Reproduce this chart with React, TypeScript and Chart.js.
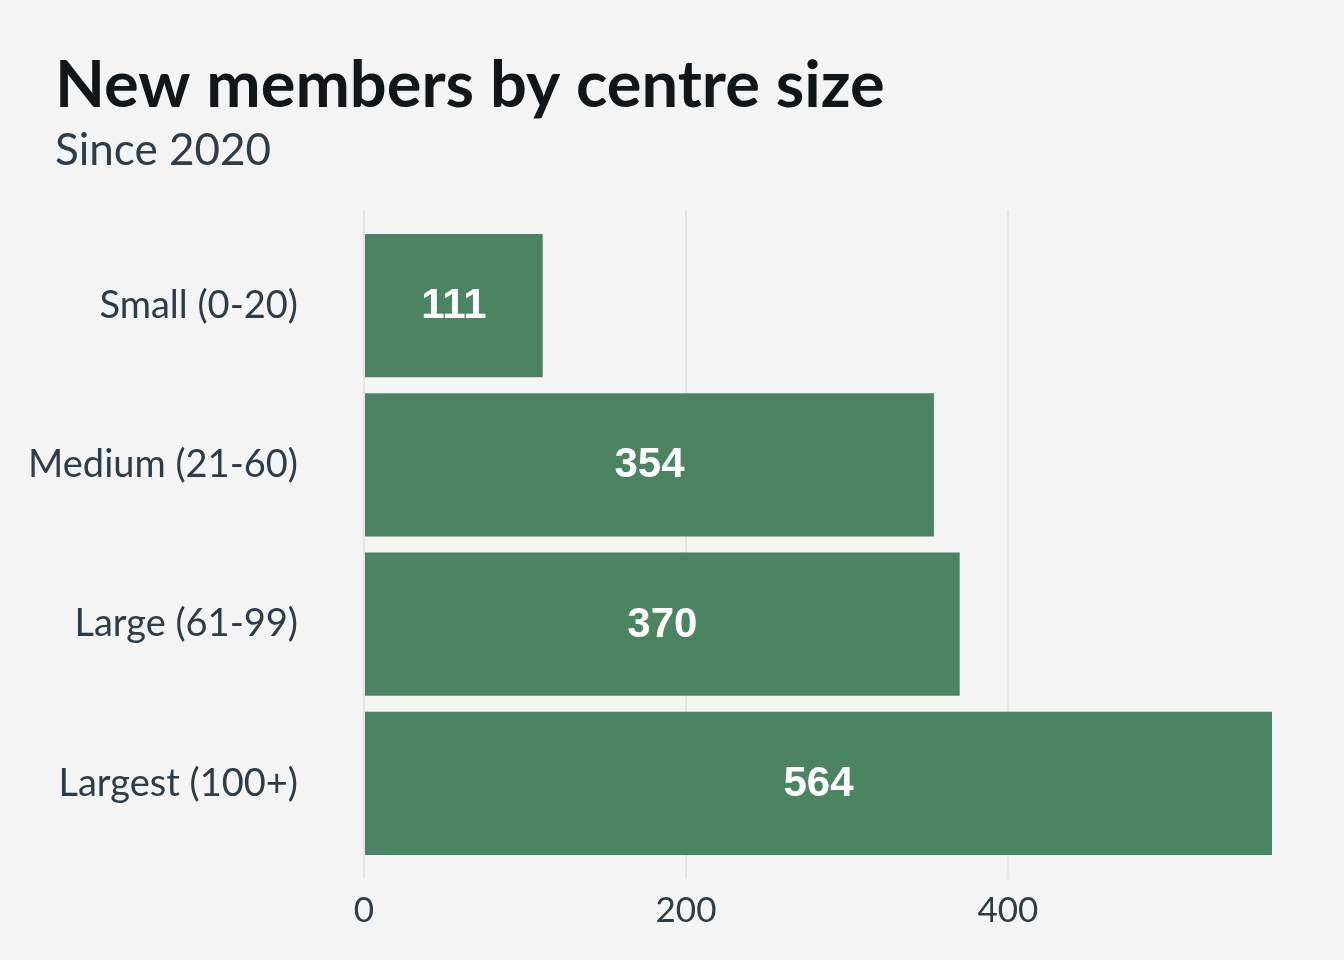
import React, { useEffect, useRef } from "react";
import { Chart, registerables } from "chart.js";

Chart.register(...registerables);

const categories = ["Small (0-20)", "Medium (21-60)", "Large (61-99)", "Largest (100+)"];
const newMembers = [111, 354, 370, 564];
const xTickValues = [0, 200, 400];

const TITLE = "New members by centre size";
const SUBTITLE = "Since 2020";

const BG = "#f4f4f4";
const BAR = "#4a8461";
const TEXT = "#2e3c48";

const headerPlugin = {
  id: "header",
  afterDraw(chart: any) {
    const ctx = chart.ctx;
    ctx.save();
    ctx.textAlign = "left";
    ctx.textBaseline = "alphabetic";
    ctx.fillStyle = "#121619";
    ctx.font = "bold 65px Lato";
    ctx.fillText(TITLE, 55, 107);
    ctx.fillStyle = TEXT;
    ctx.font = "44px Lato";
    ctx.fillText(SUBTITLE, 55, 165);
    ctx.restore();
  },
};

const valueLabels = {
  id: "valueLabels",
  afterDatasetsDraw(chart: any) {
    const ctx = chart.ctx;
    const meta = chart.getDatasetMeta(0);
    ctx.save();
    ctx.fillStyle = "#ffffff";
    ctx.font = "bold 42px 'Liberation Sans', Arial, sans-serif";
    ctx.textAlign = "center";
    ctx.textBaseline = "middle";
    meta.data.forEach((el: any, i: number) => {
      const { x, y, base } = el.getProps(["x", "y", "base"], true);
      ctx.fillText(String(newMembers[i]), (x + base) / 2, y + 1);
    });
    ctx.restore();
  },
};

const bgPlugin = {
  id: "bgFill",
  beforeDraw(chart: any) {
    const ctx = chart.ctx;
    ctx.save();
    ctx.fillStyle = BG;
    ctx.fillRect(0, 0, chart.width, chart.height);
    ctx.restore();
  },
};

export default function App() {
  const ref = useRef<HTMLCanvasElement | null>(null);

  useEffect(() => {
    document.body.style.margin = "0";
    document.body.style.background = BG;
    if (!ref.current) return;
    const chart = new Chart(ref.current, {
      type: "bar",
      data: {
        datasets: [
          {
            data: newMembers.map((v, i) => ({ x: v, y: i + 1 })),
            backgroundColor: BAR,
            borderWidth: 0,
            barPercentage: 0.9,
            categoryPercentage: 1,
          },
        ],
      },
      options: {
        indexAxis: "y",
        animation: false,
        responsive: false,
        maintainAspectRatio: false,
        layout: { padding: { left: 4, right: 72, top: 210, bottom: 0 } },
        plugins: {
          legend: { display: false },
          tooltip: { enabled: false },
          title: { display: false },
        },
        scales: {
          x: {
            type: "linear",
            position: "bottom",
            min: 0,
            max: 564,
            afterBuildTicks(scale: any) {
              scale.ticks = xTickValues.map((v) => ({ value: v }));
            },
            afterFit(scale: any) {
              scale.height = 81;
              scale.paddingLeft = 0;
              scale.paddingRight = 0;
            },
            grid: { color: "#e4e4e4", lineWidth: 2, drawTicks: false },
            border: { display: false },
            ticks: {
              color: TEXT,
              padding: 11,
              font: { family: "Lato", size: 35 },
            },
          },
          y: {
            type: "linear",
            position: "left",
            min: 0.4,
            max: 4.6,
            reverse: true,
            offset: false,
            afterBuildTicks(scale: any) {
              scale.ticks = categories.map((_, i) => ({ value: i + 1 }));
            },
            afterFit(scale: any) {
              scale.width = 364 - 4;
              scale.paddingTop = 0;
              scale.paddingBottom = 0;
            },
            grid: { display: false, drawTicks: false, offset: false },
            border: { display: false },
            ticks: {
              color: TEXT,
              padding: 66,
              font: { family: "Lato", size: 38 },
              callback: (v: any) => categories[Math.round(Number(v)) - 1] ?? "",
            },
          },
        },
      },
      plugins: [bgPlugin, valueLabels, headerPlugin],
    });
    return () => chart.destroy();
  }, []);

  return (
    <div style={{ width: 1344, height: 960, background: BG }}>
      <canvas ref={ref} width={1344} height={960} style={{ display: "block" }} />
    </div>
  );
}
